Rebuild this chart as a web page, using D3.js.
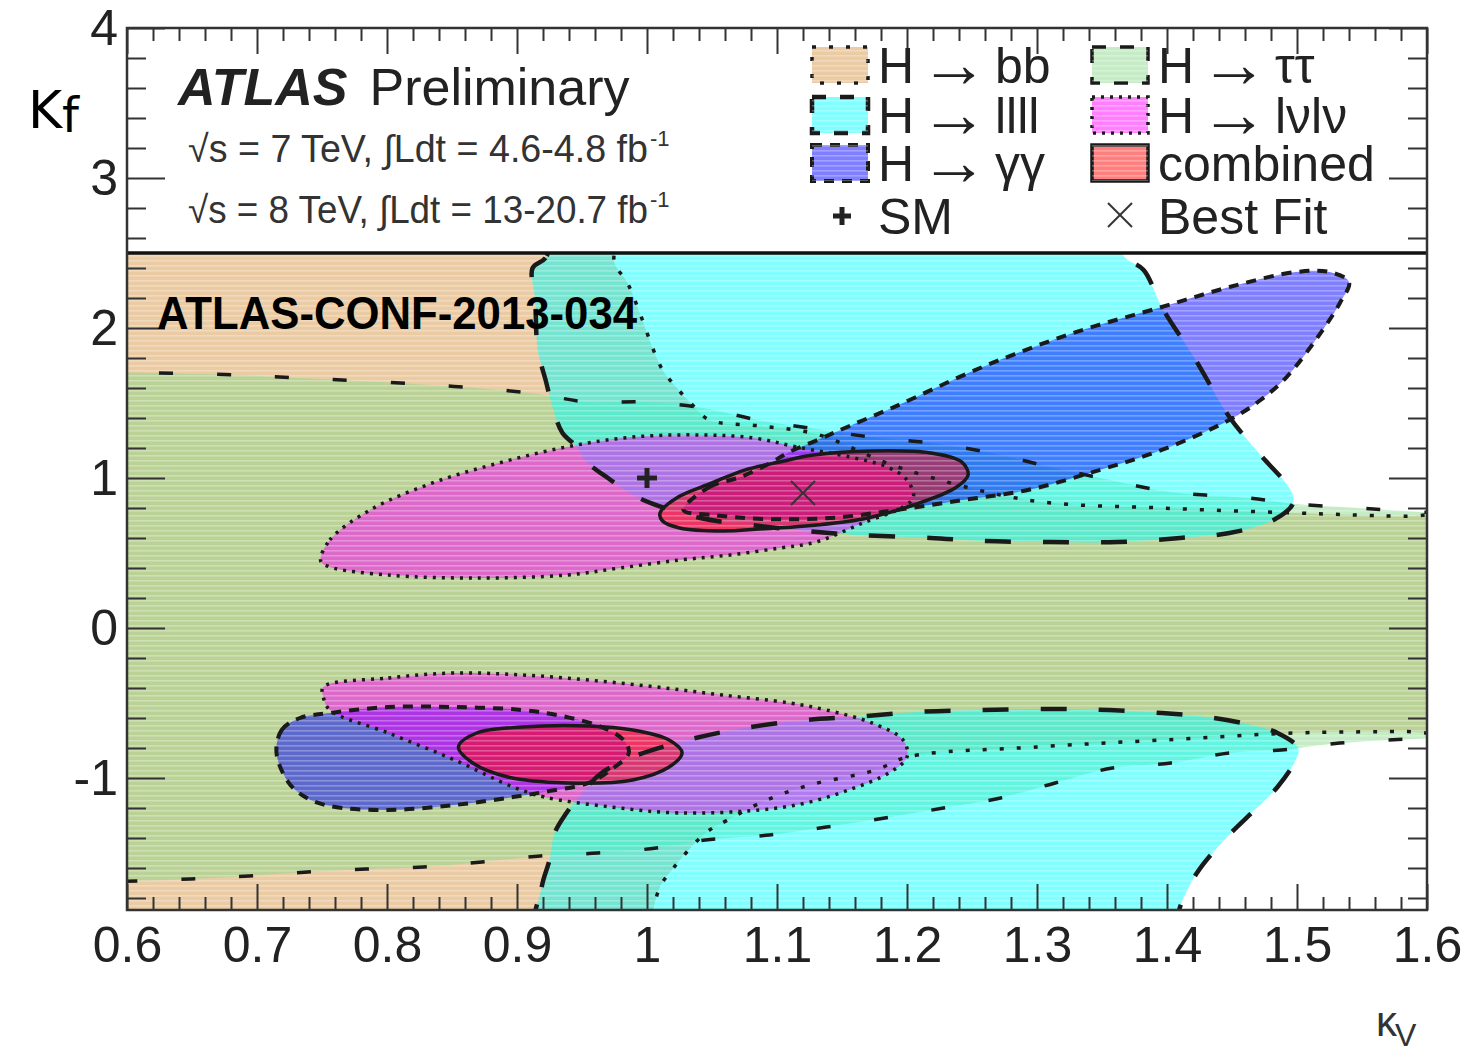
<!DOCTYPE html>
<html>
<head>
<meta charset="utf-8">
<script src="https://cdn.jsdelivr.net/npm/d3@7"></script>
<style>
  body { margin: 0; background: #fff; }
  svg { display: block; }
</style>
</head>
<body>
<svg id="chart"></svg>
<script>
// Canvas and frame of the plot
const width = 1467, height = 1057;
const frame = {left: 127, right: 1427, top: 28, bottom: 910};

// axis ranges and ticks
const xDomain = [0.6, 1.6];
const yDomain = [-1.88, 4];
const legendFloor = 2.5;
const xTickValues = [0.6, 0.7, 0.8, 0.9, 1.0, 1.1, 1.2, 1.3, 1.4, 1.5, 1.6];
const xTickLabels = ["0.6", "0.7", "0.8", "0.9", "1", "1.1", "1.2", "1.3", "1.4", "1.5", "1.6"];
const yTickValues = [-1, 0, 1, 2, 3, 4];
const yTickLabels = ["-1", "0", "1", "2", "3", "4"];

// markers
const smPoint = [1.0, 1.0];
const bestFit = [1.12, 0.9];

// 68% CL contours, [kappaV, kappaF]
const bbContour = [[0.5, 2.7], [0.973, 2.7], [0.975, 2.433], [0.985, 2.3], [0.995, 2.087], [1.005, 1.853],
  [1.012, 1.72], [1.023, 1.6], [1.035, 1.487], [1.048, 1.387], [1.087, 1.347], [1.13, 1.293], [1.195, 1.067],
  [1.293, 0.853], [1.396, 0.8], [1.499, 0.767], [1.58, 0.745], [1.7, 0.73], [1.7, -0.68], [1.58, -0.69],
  [1.499, -0.7], [1.396, -0.747], [1.3, -0.793], [1.2, -0.86], [1.176, -0.947], [1.125, -1.047],
  [1.092, -1.147], [1.062, -1.28], [1.045, -1.367], [1.021, -1.593], [1.01, -1.727], [1.003, -1.95],
  [1.0, -2.1], [0.5, -2.1]];

const tautauContour = [[0.5, 1.72], [0.58, 1.707], [0.684, 1.687], [0.732, 1.667], [0.822, 1.627],
  [0.91, 1.567], [0.954, 1.507], [0.998, 1.507], [1.043, 1.467], [1.085, 1.387], [1.125, 1.333],
  [1.172, 1.273], [1.218, 1.233], [1.265, 1.167], [1.31, 1.073], [1.356, 0.987], [1.402, 0.907],
  [1.462, 0.867], [1.499, 0.827], [1.547, 0.8], [1.61, 0.767], [1.7, 0.75], [1.7, -0.72], [1.61, -0.733],
  [1.533, -0.767], [1.488, -0.813], [1.448, -0.833], [1.403, -0.9], [1.358, -0.933], [1.314, -1.033],
  [1.272, -1.133], [1.228, -1.2], [1.183, -1.267], [1.138, -1.327], [1.094, -1.38], [1.045, -1.413],
  [1.007, -1.467], [0.962, -1.5], [0.918, -1.52], [0.873, -1.56], [0.828, -1.593], [0.784, -1.607],
  [0.739, -1.627], [0.694, -1.653], [0.649, -1.673], [0.58, -1.693], [0.5, -1.7]];

const llllUpper = [[0.933, 2.7], [0.922, 2.467], [0.912, 2.4], [0.914, 2.187], [0.916, 1.853], [0.922, 1.653],
  [0.928, 1.453], [0.935, 1.3], [0.946, 1.207], [0.952, 1.12], [0.972, 0.987], [0.988, 0.893], [1.003, 0.833],
  [1.041, 0.733], [1.087, 0.68], [1.131, 0.64], [1.162, 0.62], [1.218, 0.6], [1.258, 0.58], [1.31, 0.573],
  [1.362, 0.573], [1.41, 0.6], [1.448, 0.633], [1.482, 0.72], [1.497, 0.833], [1.495, 0.92], [1.472, 1.153],
  [1.448, 1.407], [1.422, 1.787], [1.396, 2.14], [1.382, 2.387], [1.368, 2.467], [1.348, 2.7]];

const llllLower = [[0.917, -2.1], [0.919, -1.727], [0.925, -1.547], [0.929, -1.367], [0.938, -1.233],
  [0.952, -1.08], [0.965, -0.967], [0.989, -0.86], [1.031, -0.747], [1.075, -0.667], [1.123, -0.613],
  [1.159, -0.593], [1.207, -0.56], [1.258, -0.547], [1.31, -0.54], [1.355, -0.547], [1.396, -0.567],
  [1.43, -0.593], [1.465, -0.647], [1.485, -0.7], [1.501, -0.8], [1.499, -0.88], [1.485, -1.06],
  [1.465, -1.233], [1.444, -1.413], [1.423, -1.633], [1.41, -1.86], [1.404, -2.1]];

const gamgamUpper = [[1.028, 0.787], [1.048, 0.94], [1.072, 1.007], [1.095, 1.1], [1.108, 1.167], [1.131, 1.253],
  [1.154, 1.34], [1.19, 1.473], [1.258, 1.74], [1.328, 1.967], [1.396, 2.14], [1.448, 2.273], [1.499, 2.373],
  [1.525, 2.373], [1.54, 2.307], [1.533, 2.167], [1.516, 1.94], [1.492, 1.673], [1.472, 1.52], [1.448, 1.387],
  [1.396, 1.187], [1.348, 1.053], [1.293, 0.92], [1.243, 0.853], [1.192, 0.787], [1.141, 0.733],
  [1.089, 0.727], [1.051, 0.753]];

const gamgamLower = [[0.715, -0.833], [0.719, -0.68], [0.733, -0.6], [0.756, -0.567], [0.801, -0.527],
  [0.852, -0.527], [0.904, -0.547], [0.938, -0.593], [0.965, -0.66], [0.982, -0.747], [0.986, -0.833],
  [0.972, -0.947], [0.955, -1.033], [0.921, -1.093], [0.897, -1.127], [0.852, -1.18], [0.801, -1.213],
  [0.756, -1.187], [0.737, -1.127], [0.724, -1.027]];

const lvlvUpper = [[0.749, 0.447], [0.756, 0.587], [0.787, 0.787], [0.835, 0.967], [0.886, 1.1], [0.938, 1.207],
  [0.989, 1.273], [1.041, 1.287], [1.082, 1.267], [1.115, 1.207], [1.156, 1.14], [1.185, 1.073], [1.2, 0.987],
  [1.205, 0.873], [1.197, 0.807], [1.166, 0.7], [1.13, 0.573], [1.102, 0.533], [1.064, 0.487], [1.025, 0.453],
  [0.979, 0.4], [0.938, 0.353], [0.869, 0.333], [0.801, 0.353], [0.756, 0.407]];

const lvlvLower = [[0.751, -0.393], [0.801, -0.333], [0.852, -0.3], [0.904, -0.313], [0.955, -0.347],
  [1.007, -0.393], [1.058, -0.447], [1.11, -0.5], [1.138, -0.547], [1.173, -0.633], [1.197, -0.747],
  [1.2, -0.86], [1.186, -0.967], [1.155, -1.08], [1.122, -1.167], [1.087, -1.213], [1.024, -1.233],
  [0.972, -1.193], [0.921, -1.127], [0.897, -1.06], [0.852, -0.88], [0.801, -0.7], [0.756, -0.547],
  [0.751, -0.46]];

const combinedUpper = [[1.01, 0.767], [1.024, 0.873], [1.05, 0.967], [1.075, 1.053], [1.102, 1.107],
  [1.128, 1.153], [1.173, 1.18], [1.218, 1.167], [1.242, 1.107], [1.247, 1.02], [1.237, 0.933], [1.205, 0.82],
  [1.166, 0.727], [1.122, 0.68], [1.087, 0.66], [1.058, 0.647], [1.025, 0.667], [1.012, 0.713]];

const combinedLower = [[0.855, -0.793], [0.869, -0.7], [0.904, -0.66], [0.955, -0.653], [0.989, -0.68],
  [1.017, -0.747], [1.027, -0.833], [1.017, -0.927], [0.989, -1.013], [0.938, -1.033], [0.893, -0.993],
  [0.866, -0.9]];

const legendLabels = ["H \u2192 bb", "H \u2192 llll", "H \u2192 \u03b3\u03b3", "H \u2192 \u03c4\u03c4", "H \u2192 l\u03bdl\u03bd", "combined"];

// channel styles
const channels = [
  {label: legendLabels[0], regions: [bbContour], fill: "rgb(215,151,71)", dash: "4,13", sw: 3.5},
  {label: legendLabels[3], regions: [tautauContour], fill: "rgb(140,217,140)", dash: "14,44", sw: 3.5},
  {label: legendLabels[1], regions: [llllUpper, llllLower], fill: "rgb(0,255,255)", dash: "26,32", sw: 4.5},
  {label: legendLabels[2], regions: [gamgamUpper, gamgamLower], fill: "rgb(0,0,255)", dash: "10,8", sw: 4},
  {label: legendLabels[4], regions: [lvlvUpper, lvlvLower], fill: "rgb(255,0,255)", dash: "3,6", sw: 3.5},
  {label: legendLabels[5], regions: [combinedUpper, combinedLower], fill: "rgb(255,0,0)", dash: null, sw: 3.5}
];

const svg = d3.select("#chart")
    .attr("width", width)
    .attr("height", height)
    .style("background", "#ffffff");

const x = d3.scaleLinear().domain(xDomain).range([frame.left, frame.right]);
const y = d3.scaleLinear().domain(yDomain).range([frame.bottom, frame.top]);

const defs = svg.append("defs");
defs.append("clipPath").attr("id", "plotclip")
  .append("rect")
    .attr("x", x(xDomain[0]))
    .attr("y", y(legendFloor))
    .attr("width", x(xDomain[1]) - x(xDomain[0]))
    .attr("height", y(yDomain[0]) - y(legendFloor));

const stripes = defs.append("pattern")
    .attr("id", "stripes")
    .attr("patternUnits", "userSpaceOnUse")
    .attr("width", 20).attr("height", 5);
stripes.append("rect")
    .attr("x", 0).attr("y", 0).attr("width", 20).attr("height", 1.6)
    .attr("fill", "#ffffff").attr("fill-opacity", 0.28);

const contour = d3.line()
    .x(d => x(d[0]))
    .y(d => y(d[1]))
    .curve(d3.curveCatmullRomClosed.alpha(0.5));

const plot = svg.append("g").attr("clip-path", "url(#plotclip)");

// fills first, then the outlines on top
channels.forEach(c => {
  c.regions.forEach(r => {
    plot.append("path")
        .datum(r)
        .attr("d", contour)
        .attr("fill", c.fill)
        .attr("fill-opacity", 0.5)
        .attr("stroke", "none");
  });
});

plot.append("rect")
    .attr("x", x(xDomain[0])).attr("y", y(legendFloor))
    .attr("width", x(xDomain[1]) - x(xDomain[0]))
    .attr("height", y(yDomain[0]) - y(legendFloor))
    .attr("fill", "url(#stripes)");

channels.forEach(c => {
  c.regions.forEach(r => {
    plot.append("path")
        .datum(r)
        .attr("d", contour)
        .attr("fill", "none")
        .attr("stroke", "#1a1a1a")
        .attr("stroke-width", c.sw)
        .attr("stroke-dasharray", c.dash);
  });
});

// SM point
const cross = svg.append("g").attr("transform", `translate(${x(smPoint[0])},${y(smPoint[1])})`);
cross.append("line").attr("x1", -10).attr("x2", 10).attr("y1", 0).attr("y2", 0)
    .attr("stroke", "#222").attr("stroke-width", 5);
cross.append("line").attr("x1", 0).attr("x2", 0).attr("y1", -10).attr("y2", 10)
    .attr("stroke", "#222").attr("stroke-width", 5);

// best fit
const bf = svg.append("g").attr("transform", `translate(${x(bestFit[0])},${y(bestFit[1])})`);
bf.append("line").attr("x1", -12).attr("x2", 12).attr("y1", -12).attr("y2", 12)
    .attr("stroke", "#333").attr("stroke-width", 2);
bf.append("line").attr("x1", -12).attr("x2", 12).attr("y1", 12).attr("y2", -12)
    .attr("stroke", "#333").attr("stroke-width", 2);

// legend panel (white, covers kF > 2.5)
svg.append("rect")
    .attr("x", x(xDomain[0])).attr("y", y(yDomain[1]))
    .attr("width", x(xDomain[1]) - x(xDomain[0]))
    .attr("height", y(legendFloor) - y(yDomain[1]))
    .attr("fill", "#ffffff");
svg.append("line")
    .attr("x1", x(xDomain[0])).attr("x2", x(xDomain[1]))
    .attr("y1", y(legendFloor)).attr("y2", y(legendFloor))
    .attr("stroke", "#111").attr("stroke-width", 3.5);

// axes: ROOT style, ticks inside on all four sides
const tickColor = "#333";
function styleAxis(g) {
  g.select(".domain").remove();
  g.selectAll(".tick line").attr("stroke", tickColor).attr("stroke-width", 2);
  g.selectAll(".tick text")
      .attr("fill", "#222")
      .style("font-family", "'Liberation Sans', Arial, sans-serif")
      .style("font-size", "50px");
}
const xMinor = x.ticks(50).filter(v => !xTickValues.some(t => Math.abs(t - v) < 1e-6));
const yMinor = y.ticks(30).filter(v => !yTickValues.some(t => Math.abs(t - v) < 1e-6));

svg.append("g").attr("transform", `translate(0,${frame.bottom})`)
    .call(d3.axisBottom(x).tickValues(xTickValues).tickSize(-26).tickPadding(16)
      .tickFormat((d, i) => xTickLabels[i]))
    .call(styleAxis);
svg.append("g").attr("transform", `translate(0,${frame.bottom})`)
    .call(d3.axisBottom(x).tickValues(xMinor).tickSize(-13).tickFormat(""))
    .call(styleAxis);
svg.append("g").attr("transform", `translate(0,${frame.top})`)
    .call(d3.axisTop(x).tickValues(xTickValues).tickSize(-26).tickFormat(""))
    .call(styleAxis);
svg.append("g").attr("transform", `translate(0,${frame.top})`)
    .call(d3.axisTop(x).tickValues(xMinor).tickSize(-13).tickFormat(""))
    .call(styleAxis);

svg.append("g").attr("transform", `translate(${frame.left},0)`)
    .call(d3.axisLeft(y).tickValues(yTickValues).tickSize(-38).tickPadding(9)
      .tickFormat((d, i) => yTickLabels[i]))
    .call(styleAxis);
svg.append("g").attr("transform", `translate(${frame.left},0)`)
    .call(d3.axisLeft(y).tickValues(yMinor).tickSize(-19).tickFormat(""))
    .call(styleAxis);
svg.append("g").attr("transform", `translate(${frame.right},0)`)
    .call(d3.axisRight(y).tickValues(yTickValues).tickSize(-38).tickFormat(""))
    .call(styleAxis);
svg.append("g").attr("transform", `translate(${frame.right},0)`)
    .call(d3.axisRight(y).tickValues(yMinor).tickSize(-19).tickFormat(""))
    .call(styleAxis);

// frame
svg.append("rect")
    .attr("x", frame.left).attr("y", frame.top)
    .attr("width", frame.right - frame.left)
    .attr("height", frame.bottom - frame.top)
    .attr("fill", "none").attr("stroke", "#333").attr("stroke-width", 2.5);

// texts
const font = "'Liberation Sans', Arial, Helvetica, sans-serif";

const atlas = svg.append("text")
    .attr("x", 178).attr("y", 105)
    .style("font-family", font).style("font-size", "52px").attr("fill", "#222");
atlas.append("tspan").style("font-weight", "bold").style("font-style", "italic").text("ATLAS");
atlas.append("tspan").attr("dx", 22).text("Preliminary");

function lumiLine(yPos, energy, lumi) {
  svg.append("text")
      .attr("x", 188).attr("y", yPos)
      .attr("textLength", 460).attr("lengthAdjust", "spacingAndGlyphs")
      .style("font-family", font).style("font-size", "38px").attr("fill", "#333")
      .text(`\u221as = ${energy} TeV, \u222bLdt = ${lumi} fb`);
  svg.append("text")
      .attr("x", 650).attr("y", yPos - 16)
      .style("font-family", font).style("font-size", "22px").attr("fill", "#333")
      .text("-1");
}
lumiLine(162, "7", "4.6-4.8");
lumiLine(223, "8", "13-20.7");

svg.append("text")
    .attr("x", 157).attr("y", 329)
    .attr("textLength", 480).attr("lengthAdjust", "spacingAndGlyphs")
    .style("font-family", font).style("font-size", "46px").style("font-weight", "bold")
    .attr("fill", "#000")
    .text("ATLAS-CONF-2013-034");

// axis titles
const kf = svg.append("text")
    .attr("x", 28).attr("y", 128)
    .style("font-family", "'DejaVu Sans', 'Noto Sans', sans-serif").style("font-size", "52px")
    .attr("fill", "#000");
kf.append("tspan").text("K");
kf.append("tspan").attr("dy", 4).style("font-size", "48px").text("f");

const kv = svg.append("text")
    .attr("x", 1376).attr("y", 1036)
    .style("font-family", font).style("font-size", "42px").attr("fill", "#333");
kv.append("tspan").text("\u03ba");
kv.append("tspan").attr("dy", 10).attr("dx", -2).style("font-size", "32px").text("V");

// legend entries
const legendItems = [
  {ch: channels[0], bx: 812, by: 47},
  {ch: channels[2], bx: 812, by: 97},
  {ch: channels[3], bx: 812, by: 145},
  {ch: channels[1], bx: 1092, by: 47},
  {ch: channels[4], bx: 1092, by: 97},
  {ch: channels[5], bx: 1092, by: 145}
];
const legend = svg.append("g");
legendItems.forEach(it => {
  legend.append("rect")
      .attr("x", it.bx).attr("y", it.by)
      .attr("width", 56).attr("height", 36)
      .attr("fill", it.ch.fill).attr("fill-opacity", 0.5)
      .attr("stroke", "#1a1a1a")
      .attr("stroke-width", it.ch.sw)
      .attr("stroke-dasharray", it.ch.dash ? it.ch.dash.split(",").map(v => Math.min(+v, 14)).join(",") : null);
  legend.append("rect")
      .attr("x", it.bx).attr("y", it.by)
      .attr("width", 56).attr("height", 36)
      .attr("fill", "url(#stripes)");
  const parts = it.ch.label.split(" \u2192 ");
  const textY = it.by + 36;
  const t = legend.append("text")
      .attr("x", it.bx + 66).attr("y", textY)
      .style("font-family", font).style("font-size", "50px").attr("fill", "#222");
  if (parts.length === 2) {
    t.append("tspan").text(parts[0]);
    t.append("tspan")
        .attr("x", it.bx + 108).attr("dy", 4)
        .style("font-size", "68px")
        .text("\u2192");
    t.append("tspan")
        .attr("x", it.bx + 183).attr("dy", -4)
        .text(parts[1]);
  } else {
    t.text(it.ch.label);
  }
});

// SM / best fit legend rows
const lsm = legend.append("g").attr("transform", "translate(842,216)");
lsm.append("line").attr("x1", -9).attr("x2", 9).attr("stroke", "#222").attr("stroke-width", 5);
lsm.append("line").attr("y1", -9).attr("y2", 9).attr("stroke", "#222").attr("stroke-width", 5);
legend.append("text")
    .attr("x", 878).attr("y", 234)
    .style("font-family", font).style("font-size", "50px").attr("fill", "#222")
    .text("SM");

const lbf = legend.append("g").attr("transform", "translate(1120,215)");
lbf.append("line").attr("x1", -12).attr("x2", 12).attr("y1", -12).attr("y2", 12).attr("stroke", "#333").attr("stroke-width", 2);
lbf.append("line").attr("x1", -12).attr("x2", 12).attr("y1", 12).attr("y2", -12).attr("stroke", "#333").attr("stroke-width", 2);
legend.append("text")
    .attr("x", 1158).attr("y", 234)
    .style("font-family", font).style("font-size", "50px").attr("fill", "#222")
    .text("Best Fit");
</script>
</body>
</html>
